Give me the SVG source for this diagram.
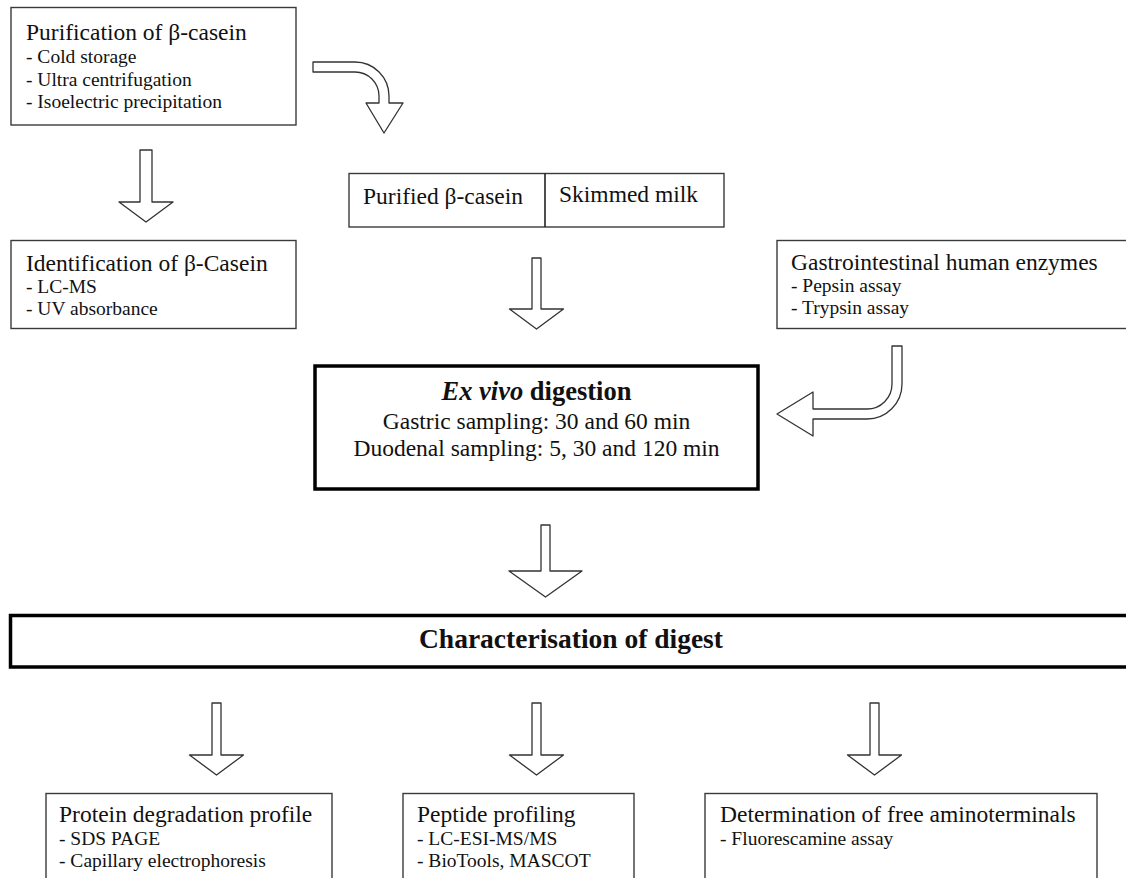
<svg xmlns="http://www.w3.org/2000/svg" width="1126" height="878" viewBox="0 0 1126 878">
<style>
text{font-family:"Liberation Serif","Times New Roman",serif;fill:#111}
.t{font-size:23.5px}
.s{font-size:19.5px}
.box{fill:#fff;stroke:#3a3a3a;stroke-width:1.4}
.thick{fill:#fff;stroke:#000;stroke-width:3.5}
.arr{fill:#fff;stroke:#333;stroke-width:1.3;stroke-linejoin:round}
.b{font-weight:bold}
</style>
<rect width="1126" height="878" fill="#fff"/>
<g id="purification">
<rect class="box" x="11" y="7.5" width="285" height="117.5"/>
<text class="t" x="26" y="40">Purification of β-casein</text>
<text class="s" x="26" y="63">- Cold storage</text>
<text class="s" x="26" y="86">- Ultra centrifugation</text>
<text class="s" x="26" y="108">- Isoelectric precipitation</text>
</g>
<g id="identification">
<rect class="box" x="11" y="240.5" width="285" height="88"/>
<text class="t" x="26" y="271">Identification of β-Casein</text>
<text class="s" x="26" y="293">- LC-MS</text>
<text class="s" x="26" y="315">- UV absorbance</text>
</g>
<g id="samples">
<rect class="box" x="349" y="173.5" width="375" height="53.5"/>
<line x1="545" y1="173.5" x2="545" y2="227" stroke="#222" stroke-width="1.6"/>
<text class="t" x="363" y="204">Purified β-casein</text>
<text class="t" x="559" y="202">Skimmed milk</text>
</g>
<g id="enzymes">
<rect class="box" x="777" y="240.5" width="360" height="88"/>
<text class="t" x="791" y="270">Gastrointestinal human enzymes</text>
<text class="s" x="791" y="292">- Pepsin assay</text>
<text class="s" x="791" y="314">- Trypsin assay</text>
</g>
<g id="exvivo">
<rect class="thick" x="315" y="366" width="443" height="123"/>
<text x="536.5" y="400" text-anchor="middle" font-size="26.5" class="b"><tspan font-style="italic">Ex vivo</tspan> digestion</text>
<text class="t" x="536.5" y="429" text-anchor="middle">Gastric sampling: 30 and 60 min</text>
<text class="t" x="536.5" y="456" text-anchor="middle">Duodenal sampling: 5, 30 and 120 min</text>
</g>
<g id="characterisation">
<rect class="thick" x="10.5" y="615.5" width="1130" height="51.5"/>
<text x="571" y="648" text-anchor="middle" font-size="27.5" class="b">Characterisation of digest</text>
</g>
<g id="protein">
<rect class="box" x="46" y="793.5" width="286" height="110"/>
<text class="t" x="59" y="822">Protein degradation profile</text>
<text class="s" x="59" y="845">- SDS PAGE</text>
<text class="s" x="59" y="867">- Capillary electrophoresis</text>
</g>
<g id="peptide">
<rect class="box" x="403" y="793.5" width="231" height="110"/>
<text class="t" x="417" y="822">Peptide profiling</text>
<text class="s" x="417" y="845">- LC-ESI-MS/MS</text>
<text class="s" x="417" y="867">- BioTools, MASCOT</text>
</g>
<g id="aminoterminals">
<rect class="box" x="705" y="793.5" width="392" height="110"/>
<text class="t" x="720" y="822">Determination of free aminoterminals</text>
<text class="s" x="720" y="845">- Fluorescamine assay</text>
</g>
<g id="connectors">
<path class="arr" d="M313,62 L355,62 A34,34 0 0 1 389,96 L389,103 L403,103 L384,133 L366,103 L379,103 L379,96 A24,24 0 0 0 355,72 L313,72 Z"/>
<path class="arr" d="M140,150 L152,150 L152,202 L173,202 L146,222 L119,202 L140,202 Z"/>
<path class="arr" d="M532,258 L541,258 L541,309 L563.5,309 L536.5,329 L509.5,309 L532,309 Z"/>
<path class="arr" d="M892,346 L902,346 L902,384 A35,35 0 0 1 867,419 L813,419 L813,436 L777,414 L813,392 L813,409 L867,409 A25,25 0 0 0 892,384 Z"/>
<path class="arr" d="M541,525 L550,525 L550,571 L582,571 L545.5,597 L509,571 L541,571 Z"/>
<path class="arr" d="M212,703 L221,703 L221,755 L243.5,755 L216.5,775 L189.5,755 L212,755 Z"/>
<path class="arr" d="M532,703 L541,703 L541,755 L563.5,755 L536.5,775 L509.5,755 L532,755 Z"/>
<path class="arr" d="M870,703 L879,703 L879,755 L901.5,755 L874.5,775 L847.5,755 L870,755 Z"/>
</g>
</svg>
